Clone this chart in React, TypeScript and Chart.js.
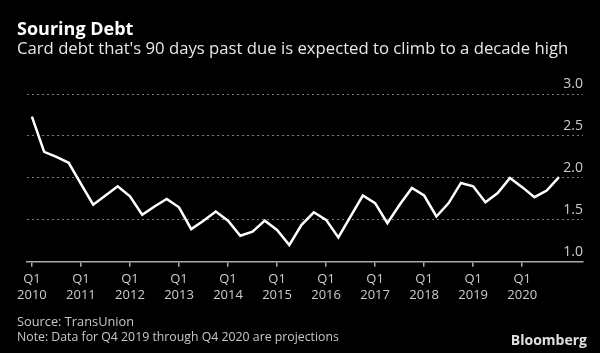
import React, { useEffect, useRef } from "react";
import { Chart, registerables } from "chart.js";

Chart.register(...registerables);

const TITLE = "Souring Debt";
const SUBTITLE = "Card debt that's 90 days past due is expected to climb to a decade high";
const SOURCE = "Source: TransUnion";
const NOTE = "Note: Data for Q4 2019 through Q4 2020 are projections";
const BRAND = "Bloomberg";

// Quarterly, Q1 2010 .. Q4 2020 (percent of card debt 90+ days past due)
const years = ["2010", "2011", "2012", "2013", "2014", "2015", "2016", "2017", "2018", "2019", "2020"];
const quartersPerYear = 4;
const values = [
  2.73, 2.31, 2.25, 2.18,
  1.93, 1.68, 1.79, 1.90,
  1.78, 1.56, 1.66, 1.75,
  1.65, 1.39, 1.49, 1.60,
  1.49, 1.31, 1.36, 1.49,
  1.38, 1.20, 1.44, 1.59,
  1.50, 1.29, 1.54, 1.79,
  1.70, 1.46, 1.68, 1.88,
  1.79, 1.54, 1.70, 1.94,
  1.90, 1.71, 1.82, 2.00,
  1.89, 1.77, 1.85, 2.01,
];
const yTicks = [1.0, 1.5, 2.0, 2.5, 3.0];

const FONT = '"Open Sans", "Noto Sans", sans-serif';

const textPlugin = {
  id: "texts",
  afterDraw(chart: any) {
    const ctx = chart.ctx;
    ctx.save();
    ctx.textBaseline = "alphabetic";
    ctx.textAlign = "left";
    ctx.fillStyle = "#ffffff";
    ctx.font = `bold 18px ${FONT}`;
    ctx.fillText(TITLE, 17, 35);
    ctx.fillStyle = "#e8e8e8";
    ctx.font = `16.7px ${FONT}`;
    ctx.fillText(SUBTITLE, 17, 54);
    ctx.fillStyle = "#c8c8c8";
    ctx.font = `12.8px ${FONT}`;
    ctx.fillText(SOURCE, 17, 326);
    ctx.font = `12.3px ${FONT}`;
    ctx.fillText(NOTE, 17, 341);
    ctx.fillStyle = "#e0e0e0";
    ctx.font = `bold 14px ${FONT}`;
    ctx.textAlign = "right";
    ctx.fillText(BRAND, 587, 345);
    ctx.restore();
  },
};

export default function App() {
  const ref = useRef<HTMLCanvasElement | null>(null);
  useEffect(() => {
    if (!ref.current) return;
    const tickIdx = years.map((_, i) => i * quartersPerYear);
    const chart = new Chart(ref.current, {
      type: "line",
      data: {
        datasets: [
          {
            data: values.map((v, i) => ({ x: i, y: v })),
            borderColor: "#ffffff",
            borderWidth: 2.5,
            pointRadius: 0,
            tension: 0,
            fill: false,
          },
        ],
      },
      options: {
        animation: false,
        responsive: false,
        maintainAspectRatio: false,
        layout: { padding: { top: 94, left: 27, right: 17, bottom: 45 } },
        plugins: { legend: { display: false }, tooltip: { enabled: false }, title: { display: false } },
        scales: {
          x: {
            type: "linear",
            min: -0.4,
            max: 44.96,
            afterBuildTicks: (scale: any) => {
              scale.ticks = tickIdx.map((v) => ({ value: v }));
            },
            grid: { display: true, drawOnChartArea: false, drawTicks: true, tickLength: 5, color: "#aaaaaa", lineWidth: 1.5 },
            border: { display: true, color: "#aaaaaa", width: 1.5 },
            ticks: {
              autoSkip: false,
              maxRotation: 0,
              padding: 5,
              color: "#cccccc",
              font: { family: FONT, size: 13, lineHeight: 1.2 },
              callback: (v: any) => {
                const i = Math.round(Number(v) / quartersPerYear);
                return ["Q1", years[i]];
              },
            },
          },
          y: {
            position: "right",
            min: 1,
            max: 3,
            afterBuildTicks: (scale: any) => {
              scale.ticks = yTicks.map((v) => ({ value: v }));
            },
            grid: { display: true, drawTicks: false, color: "#7a7a7a", lineWidth: 1 },
            border: { display: false, dash: [2, 3] },
            ticks: {
              mirror: true,
              padding: 0,
              labelOffset: -10,
              color: "#cccccc",
              font: { family: FONT, size: 14 },
              callback: (v: any) => Number(v).toFixed(1),
            },
          },
        },
      },
      plugins: [textPlugin],
    });
    return () => chart.destroy();
  }, []);
  return (
    <div style={{ position: "fixed", left: 0, top: 0, width: 600, height: 353, background: "#000" }}>
      <canvas ref={ref} width={600} height={353} style={{ display: "block", width: 600, height: 353 }} />
    </div>
  );
}
